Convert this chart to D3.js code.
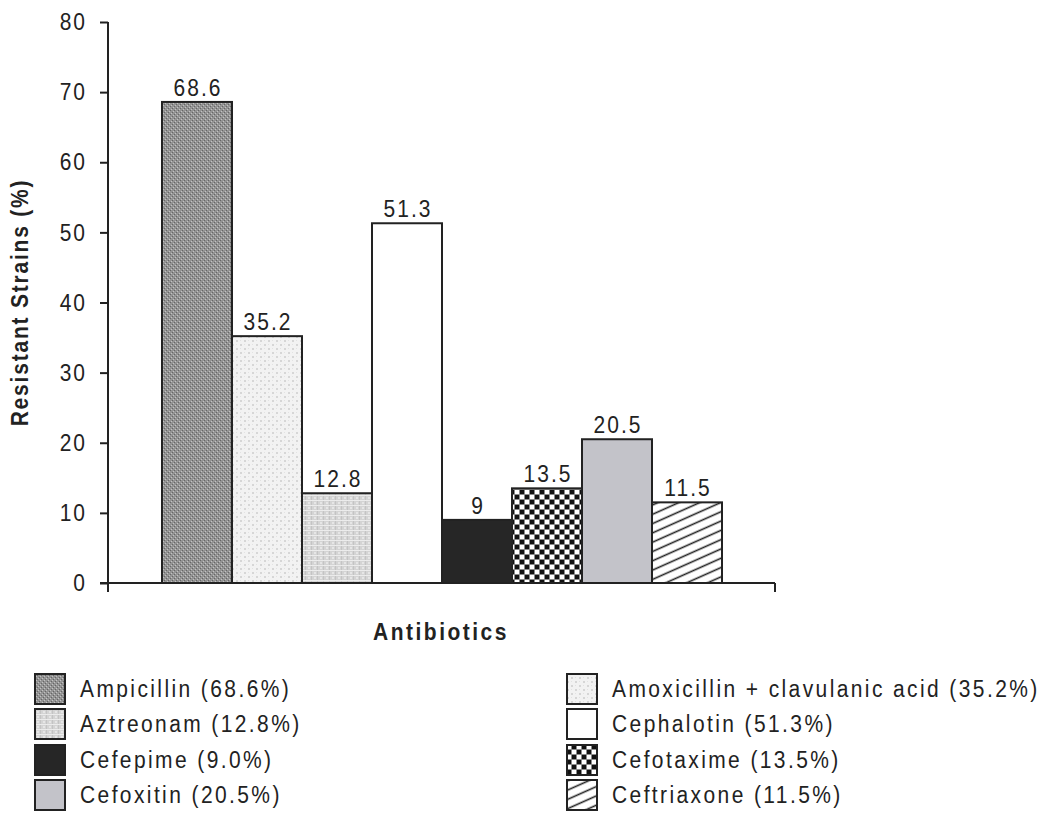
<!DOCTYPE html>
<html>
<head>
<meta charset="utf-8">
<script src="https://cdn.jsdelivr.net/npm/d3@7/dist/d3.min.js"></script>
<style>
  body { margin: 0; background: #fff; }
  svg text { font-family: "Liberation Sans", Arial, sans-serif; fill: #222; }
</style>
</head>
<body>
<svg id="chart" width="1045" height="831"></svg>
<script>
// Resistance rates of isolates to each antibiotic
const antibiotics = ["Ampicillin", "Amoxicillin + clavulanic acid", "Aztreonam", "Cephalotin",
                     "Cefepime", "Cefotaxime", "Cefoxitin", "Ceftriaxone"];
const resistance = [68.6, 35.2, 12.8, 51.3, 9, 13.5, 20.5, 11.5];
const barLabels = ["68.6", "35.2", "12.8", "51.3", "9", "13.5", "20.5", "11.5"];
const legendLabels = ["Ampicillin (68.6%)", "Amoxicillin + clavulanic acid (35.2%)",
                      "Aztreonam (12.8%)", "Cephalotin (51.3%)",
                      "Cefepime (9.0%)", "Cefotaxime (13.5%)",
                      "Cefoxitin (20.5%)", "Ceftriaxone (11.5%)"];
const yTicks = [0, 10, 20, 30, 40, 50, 60, 70, 80];

// Lettering is slightly tall and narrow
const STRETCH = "scale(1,1.1)";

const svg = d3.select("#chart");
const defs = svg.append("defs");

// Fill patterns for each bar
function pat(id, w, h, draw, transform) {
  const p = defs.append("pattern").attr("id", id)
    .attr("patternUnits", "userSpaceOnUse").attr("width", w).attr("height", h);
  if (transform) p.attr("patternTransform", transform);
  draw(p);
}
function px(p, x, y, w, h, c) {
  p.append("rect").attr("x", x).attr("y", y).attr("width", w).attr("height", h).attr("fill", c);
}
pat("p0", 4, 4, p => {
  px(p, 0, 0, 4, 4, "#939393");
  px(p, 0, 0, 1, 1, "#666");
  px(p, 2, 2, 1, 1, "#666");
  px(p, 1, 3, 1, 1, "#c2c2c2");
  px(p, 3, 1, 1, 1, "#c2c2c2");
});
pat("p1", 8, 8, p => {
  px(p, 0, 0, 8, 8, "#f2f2f2");
  px(p, 0, 0, 2, 2, "#d6d6d6");
  px(p, 4, 4, 2, 2, "#d6d6d6");
  px(p, 4, 0, 1, 1, "#e2e2e2");
  px(p, 0, 4, 1, 1, "#e2e2e2");
});
pat("p2", 6, 5, p => {
  px(p, 0, 0, 6, 5, "#d4d4d4");
  px(p, 0, 0, 6, 1, "#ececec");
  px(p, 2, 2, 2, 2, "#e6e6e6");
  px(p, 5, 1, 1, 4, "#c4c4c4");
});
pat("p5", 10, 10, p => {
  px(p, 0, 0, 10, 10, "#8a8a8a");
  px(p, 0, 0, 4, 4, "#111");
  px(p, 5, 5, 4, 4, "#111");
  px(p, 5, 0, 4, 4, "#fff");
  px(p, 0, 5, 4, 4, "#fff");
});
pat("p7", 10, 8.5, p => {
  px(p, 0, 0, 10, 8.5, "#fff");
  p.append("line").attr("x1", -1).attr("x2", 11).attr("y1", 4.25).attr("y2", 4.25)
    .attr("stroke", "#222").attr("stroke-width", 1.6);
}, "rotate(-24)");

const fills = ["url(#p0)", "url(#p1)", "url(#p2)", "#ffffff", "#262626", "url(#p5)", "#c3c3c9", "url(#p7)"];

// Plot geometry
const axisLeft = 108, axisRight = 775, yTop = 22, yBottom = 583;
const y = d3.scaleLinear().domain([0, 80]).range([yBottom, yTop]);
const x = d3.scaleBand().domain(antibiotics).range([162, 722]).padding(0);

const g = svg.append("g");

// Bars
g.selectAll("rect.bar").data(antibiotics).join("rect")
  .attr("class", "bar")
  .attr("x", d => x(d))
  .attr("width", x.bandwidth())
  .attr("y", (d, i) => y(resistance[i]))
  .attr("height", (d, i) => y(0) - y(resistance[i]))
  .attr("fill", (d, i) => fills[i])
  .attr("stroke", "#222").attr("stroke-width", 2);

// Value labels
g.selectAll("g.val").data(antibiotics).join("g")
  .attr("class", "val")
  .attr("transform", (d, i) => `translate(${x(d) + x.bandwidth() / 2 + 1},${y(resistance[i]) - 6})`)
  .append("text")
  .attr("transform", STRETCH)
  .attr("text-anchor", "middle")
  .attr("font-size", 21)
  .style("letter-spacing", "2px")
  .text((d, i) => barLabels[i]);

// Y axis
const yAxis = d3.axisLeft(y).tickValues(yTicks).tickSize(8).tickPadding(13).tickSizeOuter(0);
const ya = svg.append("g").attr("transform", `translate(${axisLeft},0)`).call(yAxis);
ya.select(".domain").attr("stroke", "#222").attr("stroke-width", 2)
  .attr("d", `M0,${yTop}V${yBottom + 9}`);
ya.selectAll(".tick line").attr("stroke", "#222").attr("stroke-width", 2);
ya.selectAll(".tick text").attr("font-size", 21).attr("fill", "#222")
  .attr("dy", "0.33em")
  .attr("transform", STRETCH)
  .style("letter-spacing", "2px")
  .style("font-family", "'Liberation Sans', Arial, sans-serif");

// X axis baseline with end ticks
const xa = svg.append("g");
xa.append("line").attr("x1", axisLeft - 8).attr("x2", axisRight)
  .attr("y1", yBottom).attr("y2", yBottom).attr("stroke", "#222").attr("stroke-width", 2);
xa.append("line").attr("x1", axisRight).attr("x2", axisRight)
  .attr("y1", yBottom).attr("y2", yBottom + 9).attr("stroke", "#222").attr("stroke-width", 2);

// Axis titles
svg.append("text")
  .attr("transform", `translate(28,${(yTop + yBottom) / 2}) rotate(-90) ${STRETCH}`)
  .attr("text-anchor", "middle").attr("font-size", 21).attr("font-weight", "bold")
  .style("letter-spacing", "1.8px")
  .text("Resistant Strains (%)");
svg.append("text")
  .attr("transform", `translate(441,640) ${STRETCH}`)
  .attr("text-anchor", "middle").attr("font-size", 21).attr("font-weight", "bold")
  .style("letter-spacing", "2.5px")
  .text("Antibiotics");

// Legend: two columns, four rows
const legend = svg.append("g");
const rowY = [689, 724, 760, 795];
const colX = [35, 567];
const item = legend.selectAll("g.item").data(legendLabels).join("g")
  .attr("class", "item")
  .attr("transform", (d, i) => `translate(${colX[i % 2]},${rowY[Math.floor(i / 2)]})`);
item.append("rect")
  .attr("x", 0).attr("y", -15).attr("width", 30).attr("height", 30)
  .attr("fill", (d, i) => fills[i]).attr("stroke", "#222").attr("stroke-width", 2);
item.append("text")
  .attr("transform", `translate(45,8) ${STRETCH}`)
  .attr("font-size", 21)
  .style("letter-spacing", "2.4px")
  .text(d => d);
</script>
</body>
</html>
